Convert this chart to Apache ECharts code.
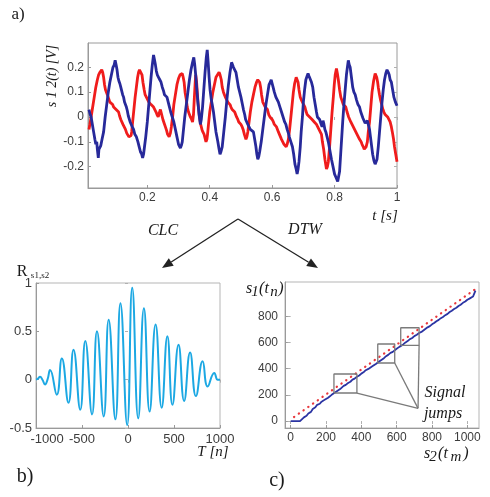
<!DOCTYPE html>
<html><head><meta charset="utf-8">
<script src="https://cdn.jsdelivr.net/npm/echarts@6/dist/echarts.min.js"></script>
<style>html,body{margin:0;padding:0;background:#fff}#c{width:490px;height:497px}</style>
</head><body><div id="c"></div>
<script>
// ---- panel a) : two measured signals ----
const signalXTicks = [0.2, 0.4, 0.6, 0.8, 1];
const signalYTicks = [-0.2, -0.1, 0, 0.1, 0.2];
const blueSignal = [[0.013,0.03],[0.017,0.01],[0.02,0.0],[0.024,-0.03],[0.028,-0.06],[0.032,-0.09],[0.035,-0.11],[0.038,-0.1],[0.04,-0.13],[0.043,-0.165],[0.045,-0.13],[0.048,-0.125],[0.051,-0.115],[0.055,-0.09],[0.06,-0.06],[0.065,0.0],[0.07,0.05],[0.075,0.1],[0.08,0.14],[0.085,0.17],[0.09,0.2],[0.094,0.21],[0.097,0.228],[0.1,0.21],[0.103,0.19],[0.106,0.16],[0.109,0.145],[0.112,0.135],[0.115,0.12],[0.118,0.105],[0.121,0.09],[0.124,0.08],[0.127,0.06],[0.13,0.055],[0.133,0.04],[0.136,0.025],[0.139,0.005],[0.142,0.0],[0.145,-0.02],[0.148,-0.02],[0.152,-0.04],[0.156,-0.05],[0.16,-0.07],[0.165,-0.08],[0.17,-0.1],[0.174,-0.12],[0.178,-0.14],[0.182,-0.15],[0.185,-0.165],[0.188,-0.15],[0.191,-0.12],[0.195,-0.08],[0.2,-0.02],[0.204,0.04],[0.208,0.1],[0.212,0.16],[0.216,0.21],[0.22,0.25],[0.223,0.23],[0.226,0.21],[0.229,0.185],[0.232,0.17],[0.236,0.16],[0.24,0.15],[0.244,0.14],[0.248,0.12],[0.252,0.105],[0.255,0.09],[0.259,0.095],[0.263,0.08],[0.267,0.06],[0.27,0.045],[0.275,0.02],[0.28,0.0],[0.285,-0.02],[0.29,-0.05],[0.295,-0.08],[0.3,-0.11],[0.303,-0.115],[0.306,-0.125],[0.309,-0.115],[0.312,-0.1],[0.316,-0.05],[0.32,0.0],[0.325,0.05],[0.33,0.1],[0.335,0.15],[0.34,0.19],[0.345,0.22],[0.349,0.24],[0.352,0.21],[0.355,0.17],[0.358,0.12],[0.362,0.06],[0.366,0.01],[0.37,-0.03],[0.373,-0.01],[0.377,0.04],[0.381,0.11],[0.385,0.18],[0.389,0.24],[0.392,0.27],[0.395,0.22],[0.398,0.16],[0.401,0.11],[0.405,0.07],[0.408,0.05],[0.412,0.02],[0.416,-0.02],[0.42,-0.06],[0.423,-0.08],[0.426,-0.1],[0.43,-0.13],[0.433,-0.15],[0.436,-0.14],[0.44,-0.12],[0.445,-0.06],[0.45,0.0],[0.455,0.07],[0.46,0.13],[0.465,0.18],[0.47,0.22],[0.473,0.21],[0.476,0.2],[0.48,0.19],[0.484,0.18],[0.488,0.15],[0.492,0.12],[0.496,0.1],[0.5,0.08],[0.504,0.055],[0.508,0.03],[0.512,0.01],[0.515,-0.01],[0.518,-0.015],[0.522,-0.03],[0.526,-0.035],[0.53,-0.05],[0.535,-0.055],[0.54,-0.06],[0.544,-0.09],[0.548,-0.12],[0.551,-0.15],[0.554,-0.17],[0.557,-0.16],[0.56,-0.14],[0.565,-0.1],[0.57,-0.05],[0.575,0.0],[0.58,0.05],[0.585,0.09],[0.59,0.13],[0.594,0.14],[0.597,0.15],[0.6,0.135],[0.603,0.12],[0.607,0.1],[0.612,0.08],[0.616,0.075],[0.62,0.06],[0.625,0.04],[0.63,0.02],[0.635,0.0],[0.64,-0.02],[0.644,-0.03],[0.648,-0.05],[0.652,-0.065],[0.655,-0.08],[0.66,-0.1],[0.665,-0.12],[0.669,-0.15],[0.673,-0.19],[0.677,-0.21],[0.68,-0.23],[0.683,-0.21],[0.686,-0.18],[0.69,-0.12],[0.693,-0.06],[0.697,0.0],[0.7,0.06],[0.704,0.11],[0.708,0.15],[0.712,0.165],[0.715,0.175],[0.718,0.165],[0.722,0.16],[0.726,0.14],[0.73,0.12],[0.734,0.08],[0.738,0.05],[0.742,0.02],[0.745,0.0],[0.748,0.005],[0.752,-0.01],[0.756,-0.025],[0.76,-0.04],[0.763,-0.015],[0.766,-0.03],[0.769,-0.05],[0.772,-0.06],[0.776,-0.08],[0.78,-0.1],[0.785,-0.135],[0.79,-0.17],[0.795,-0.2],[0.8,-0.23],[0.805,-0.245],[0.81,-0.26],[0.813,-0.24],[0.816,-0.22],[0.819,-0.16],[0.822,-0.1],[0.826,-0.02],[0.83,0.05],[0.834,0.11],[0.838,0.17],[0.841,0.2],[0.844,0.228],[0.847,0.21],[0.85,0.2],[0.854,0.16],[0.858,0.12],[0.862,0.1],[0.866,0.09],[0.87,0.07],[0.875,0.05],[0.88,0.04],[0.884,0.02],[0.887,0.013],[0.891,-0.005],[0.895,-0.01],[0.898,-0.025],[0.902,-0.03],[0.905,-0.015],[0.908,-0.02],[0.912,-0.05],[0.915,-0.08],[0.918,-0.11],[0.922,-0.15],[0.926,-0.175],[0.93,-0.19],[0.933,-0.185],[0.936,-0.17],[0.94,-0.12],[0.944,-0.06],[0.948,0.0],[0.952,0.06],[0.956,0.11],[0.96,0.15],[0.964,0.175],[0.968,0.19],[0.972,0.18],[0.975,0.17],[0.978,0.15],[0.982,0.14],[0.986,0.11],[0.99,0.08],[0.995,0.06],[1.0,0.045]];
const redSignal = [[0.013,-0.05],[0.016,-0.03],[0.02,0.0],[0.025,0.04],[0.03,0.08],[0.035,0.12],[0.04,0.15],[0.044,0.17],[0.048,0.18],[0.051,0.185],[0.054,0.19],[0.057,0.18],[0.06,0.16],[0.063,0.13],[0.066,0.11],[0.069,0.1],[0.072,0.09],[0.076,0.075],[0.08,0.06],[0.083,0.065],[0.086,0.055],[0.089,0.05],[0.092,0.04],[0.096,0.04],[0.1,0.03],[0.104,0.025],[0.108,0.02],[0.111,0.005],[0.115,-0.01],[0.118,-0.015],[0.122,-0.03],[0.126,-0.04],[0.13,-0.05],[0.134,-0.065],[0.138,-0.07],[0.141,-0.08],[0.145,-0.085],[0.148,-0.075],[0.15,-0.06],[0.153,-0.02],[0.157,0.03],[0.161,0.08],[0.165,0.12],[0.169,0.16],[0.172,0.18],[0.175,0.19],[0.177,0.195],[0.18,0.185],[0.183,0.17],[0.186,0.14],[0.19,0.11],[0.193,0.09],[0.197,0.08],[0.201,0.07],[0.205,0.06],[0.208,0.055],[0.212,0.05],[0.216,0.045],[0.22,0.04],[0.224,0.03],[0.228,0.02],[0.231,0.01],[0.235,0.0],[0.238,0.015],[0.242,0.03],[0.246,0.01],[0.25,-0.01],[0.254,-0.025],[0.258,-0.04],[0.262,-0.055],[0.265,-0.07],[0.268,-0.075],[0.27,-0.08],[0.274,-0.065],[0.277,-0.04],[0.281,0.0],[0.285,0.05],[0.29,0.09],[0.295,0.13],[0.3,0.155],[0.305,0.17],[0.309,0.17],[0.312,0.175],[0.315,0.16],[0.318,0.14],[0.321,0.1],[0.325,0.07],[0.328,0.04],[0.332,0.02],[0.335,0.01],[0.338,0.0],[0.342,-0.01],[0.345,-0.02],[0.348,0.01],[0.35,0.06],[0.353,0.13],[0.355,0.17],[0.358,0.14],[0.36,0.1],[0.363,0.05],[0.367,0.0],[0.371,-0.03],[0.375,-0.05],[0.378,-0.06],[0.382,-0.07],[0.385,-0.085],[0.388,-0.1],[0.391,-0.09],[0.393,-0.07],[0.396,-0.03],[0.4,0.02],[0.405,0.06],[0.41,0.1],[0.415,0.13],[0.42,0.16],[0.425,0.17],[0.43,0.18],[0.433,0.17],[0.437,0.15],[0.44,0.12],[0.444,0.1],[0.447,0.09],[0.45,0.08],[0.454,0.07],[0.458,0.06],[0.461,0.06],[0.465,0.05],[0.468,0.04],[0.472,0.03],[0.476,0.025],[0.48,0.02],[0.483,0.01],[0.486,0.0],[0.49,-0.01],[0.493,-0.02],[0.497,-0.025],[0.5,-0.03],[0.504,-0.04],[0.507,-0.05],[0.511,-0.07],[0.516,-0.09],[0.519,-0.08],[0.522,-0.06],[0.526,-0.02],[0.53,0.02],[0.535,0.06],[0.54,0.09],[0.545,0.12],[0.55,0.14],[0.554,0.15],[0.557,0.155],[0.56,0.14],[0.563,0.12],[0.566,0.09],[0.57,0.06],[0.574,0.05],[0.578,0.04],[0.582,0.035],[0.585,0.03],[0.589,0.01],[0.593,0.0],[0.597,-0.005],[0.6,-0.01],[0.604,-0.02],[0.607,-0.03],[0.61,-0.035],[0.614,-0.04],[0.617,-0.05],[0.62,-0.06],[0.625,-0.075],[0.63,-0.09],[0.634,-0.1],[0.638,-0.11],[0.642,-0.115],[0.645,-0.12],[0.648,-0.11],[0.652,-0.09],[0.656,-0.05],[0.66,0.0],[0.664,0.05],[0.668,0.1],[0.672,0.135],[0.677,0.16],[0.68,0.155],[0.683,0.14],[0.686,0.11],[0.69,0.08],[0.693,0.07],[0.697,0.06],[0.701,0.05],[0.705,0.04],[0.708,0.025],[0.712,0.01],[0.716,0.005],[0.72,0.0],[0.724,-0.005],[0.728,-0.01],[0.731,-0.015],[0.735,-0.02],[0.738,-0.025],[0.742,-0.03],[0.746,-0.04],[0.75,-0.05],[0.754,-0.06],[0.758,-0.07],[0.761,-0.1],[0.765,-0.13],[0.769,-0.17],[0.774,-0.21],[0.777,-0.2],[0.78,-0.18],[0.784,-0.12],[0.788,-0.05],[0.792,0.02],[0.796,0.08],[0.799,0.13],[0.802,0.17],[0.806,0.195],[0.809,0.175],[0.812,0.15],[0.816,0.11],[0.82,0.08],[0.824,0.065],[0.828,0.05],[0.832,0.045],[0.836,0.04],[0.84,0.02],[0.845,0.0],[0.848,-0.005],[0.852,-0.02],[0.856,-0.03],[0.86,-0.04],[0.864,-0.05],[0.868,-0.06],[0.872,-0.07],[0.876,-0.08],[0.88,-0.09],[0.885,-0.1],[0.888,-0.11],[0.892,-0.12],[0.895,-0.13],[0.898,-0.135],[0.901,-0.12],[0.905,-0.1],[0.908,-0.06],[0.912,-0.02],[0.916,0.04],[0.92,0.1],[0.925,0.145],[0.93,0.175],[0.933,0.17],[0.935,0.16],[0.938,0.14],[0.94,0.12],[0.944,0.09],[0.947,0.07],[0.951,0.05],[0.955,0.03],[0.958,0.02],[0.962,0.01],[0.966,0.005],[0.97,0.0],[0.974,-0.01],[0.978,-0.02],[0.982,-0.04],[0.985,-0.06],[0.989,-0.09],[0.992,-0.12],[0.996,-0.15],[1.0,-0.18]];

// ---- panel b) : cross-correlation ----
const lagTicks = [-1000, -500, 0, 500, 1000];
const corrTicks = [-0.5, 0, 0.5, 1];
const correlation = [[-1000,0.0],[-980,0.01],[-956,0.03],[-930,0.0],[-902,-0.05],[-875,0.0],[-847,0.10],[-774,-0.155],[-719,0.22],[-647,-0.24],[-592,0.31],[-519,-0.31],[-464,0.40],[-391,-0.36],[-337,0.50],[-264,-0.38],[-210,0.62],[-137,-0.41],[-82,0.79],[-9,-0.47],[46,0.95],[111,-0.40],[173,0.74],[235,-0.33],[300,0.57],[366,-0.29],[428,0.45],[483,-0.26],[549,0.36],[610,-0.22],[675,0.28],[738,-0.17],[811,0.19],[866,-0.07],[938,0.07],[975,0.0],[1000,0.0]];

// ---- panel c) : DTW warping path ----
const dtwXTicks = [0, 200, 400, 600, 800, 1000];
const dtwYTicks = [0, 200, 400, 600, 800];
const dtwPath = [[0,0],[53,0],[60,8],[75,28],[90,40],[100,58],[115,70],[125,92],[140,105],[150,124],[165,132],[175,148],[190,160],[200,172],[212,178],[220,190],[232,200],[241,214],[255,222],[265,236],[280,244],[285,252],[300,268],[312,276],[325,290],[338,300],[350,316],[362,324],[375,338],[388,348],[400,362],[412,372],[425,388],[440,398],[450,410],[462,418],[470,428],[482,436],[493,450],[505,458],[515,470],[528,480],[540,495],[552,505],[565,520],[578,528],[589,542],[598,550],[605,560],[615,566],[623,576],[637,585],[650,600],[662,610],[675,625],[688,634],[700,648],[714,658],[727,672],[740,680],[750,692],[762,702],[775,715],[788,724],[800,738],[812,748],[825,762],[838,772],[850,785],[862,794],[875,808],[888,818],[900,832],[912,842],[925,855],[938,865],[950,878],[962,888],[975,902],[988,912],[1000,925],[1012,934],[1020,942],[1032,950],[1041,962],[1046,995]];
const diagonal = [[19,31],[1047,1008]];
// boxes: [xMin, xMax, yMin, yMax]
const jumpBoxes = [[245,375,214,359],[493,589,443,588],[623,727,578,712]];
const jumpLinkCorners = [[375,214],[589,443],[727,578]];
const jumpLabelPoint = [721, 97];

const SANS = '"Liberation Sans", Arial, sans-serif';
const SERIF = '"Liberation Serif", "Times New Roman", serif';
const AXC = '#9a9a9a';
const LBL = '#3c3c3c';

function axis(kind, gridIndex, min, max, ticks, fontSize, margin, fmt, rich) {
  return {
    type: 'value', gridIndex, min, max,
    position: kind === 'x' ? 'bottom' : 'left',
    axisLine: {show: true, onZero: false, lineStyle: {color: AXC, width: 1}},
    axisTick: {show: true, inside: true, length: 3, customValues: ticks, lineStyle: {color: AXC}},
    axisLabel: {customValues: ticks, color: LBL, fontFamily: SANS, fontSize, margin, formatter: fmt, rich},
    splitLine: {show: false}
  };
}
function mirror(kind, gridIndex, min, max, ticks) {
  return {
    type: 'value', gridIndex, min, max,
    position: kind === 'x' ? 'top' : 'right',
    axisLine: {show: false},
    axisTick: {show: true, inside: true, length: 3, customValues: ticks, lineStyle: {color: '#b0b0b0'}},
    axisLabel: {show: false},
    splitLine: {show: false}
  };
}
const fmt1 = v => String(Math.round(v * 10) / 10);
const fmtInt = v => String(Math.round(v));

const boxSeries = jumpBoxes.map(b => ({
  type: 'line', xAxisIndex: 2, yAxisIndex: 2, silent: true, showSymbol: false, z: 4,
  data: [[b[0], b[2]], [b[1], b[2]], [b[1], b[3]], [b[0], b[3]], [b[0], b[2]]],
  lineStyle: {color: '#7a7a7a', width: 1.3}
}));
const linkSeries = jumpLinkCorners.map(c => ({
  type: 'line', xAxisIndex: 2, yAxisIndex: 2, silent: true, showSymbol: false, z: 4,
  data: [c, jumpLabelPoint],
  lineStyle: {color: '#7a7a7a', width: 1.3}
}));

function arrow(x0, y0, x1, y1) {
  const dx = x1 - x0, dy = y1 - y0, L = Math.hypot(dx, dy);
  const ux = dx / L, uy = dy / L, hl = 11, hw = 4.5;
  const bx = x1 - ux * hl, by = y1 - uy * hl;
  return [
    {type: 'line', shape: {x1: x0, y1: y0, x2: bx, y2: by}, style: {stroke: '#222', lineWidth: 1.3}},
    {type: 'polygon', shape: {points: [[x1, y1], [bx - uy * hw, by + ux * hw], [bx + uy * hw, by - ux * hw]]}, style: {fill: '#222'}}
  ];
}
function txt(x, y, text, font, extra) {
  return Object.assign({type: 'text', x, y, style: {text, font, fill: '#1a1a1a', align: 'center', verticalAlign: 'middle'}}, extra || {});
}

const chart = echarts.init(document.getElementById('c'), null, {renderer: 'canvas'});
chart.setOption({
  animation: false,
  backgroundColor: '#fff',
  grid: [
    {left: 88, top: 43, width: 309, height: 145, show: true, borderColor: AXC, borderWidth: 1},
    {left: 36, top: 283, width: 184, height: 145, show: true, borderColor: '#b5b5b5', borderWidth: 1},
    {left: 285, top: 282, width: 194, height: 146, show: true, borderColor: '#b5b5b5', borderWidth: 1}
  ],
  xAxis: [
    axis('x', 0, 0.01, 1, signalXTicks, 12, 4, fmt1),
    axis('x', 1, -1000, 1000, lagTicks, 13, 5, v => v === -1000 ? '{p|-1000}' : fmtInt(v),
      {p: {padding: [0, 0, 0, 22], color: LBL, fontFamily: SANS, fontSize: 13}}),
    axis('x', 2, -32, 1066, dtwXTicks, 12, 4, fmtInt),
    mirror('x', 0, 0.01, 1, signalXTicks),
    mirror('x', 1, -1000, 1000, lagTicks),
    mirror('x', 2, -32, 1066, dtwXTicks)
  ],
  yAxis: [
    axis('y', 0, -0.286, 0.298, signalYTicks, 12, 4, fmt1),
    axis('y', 1, -0.5, 1, corrTicks, 13, 4, v => String(v)),
    axis('y', 2, -53, 1061, dtwYTicks, 12, 7, fmtInt),
    mirror('y', 0, -0.286, 0.298, signalYTicks),
    mirror('y', 1, -0.5, 1, corrTicks),
    mirror('y', 2, -53, 1061, dtwYTicks)
  ],
  series: [
    {type: 'line', xAxisIndex: 0, yAxisIndex: 0, data: redSignal, showSymbol: false, z: 2,
      lineStyle: {color: '#f01c1c', width: 2.8}},
    {type: 'line', xAxisIndex: 0, yAxisIndex: 0, data: blueSignal, showSymbol: false, z: 3,
      lineStyle: {color: '#27299a', width: 2.8}},
    {type: 'line', xAxisIndex: 1, yAxisIndex: 1, data: correlation, smooth: 0.5, showSymbol: false,
      lineStyle: {color: '#1ca8e3', width: 2}},
    {type: 'line', xAxisIndex: 2, yAxisIndex: 2, data: diagonal, showSymbol: false, z: 2,
      lineStyle: {color: '#e8383d', width: 2.2, type: [0.3, 5.5], cap: 'round'}},
    {type: 'line', xAxisIndex: 2, yAxisIndex: 2, data: dtwPath, showSymbol: false, z: 3,
      lineStyle: {color: '#2b34a3', width: 1.8}},
    ...boxSeries, ...linkSeries
  ],
  graphic: [
    txt(18, 15, 'a)', '17px ' + SERIF),
    txt(52, 76, 's 1 2(t) [V]', 'italic 14px ' + SERIF, {rotation: Math.PI / 2}),
    txt(385, 216, 't [s]', 'italic 15px ' + SERIF),
    txt(163, 231, 'CLC', 'italic 16px ' + SERIF),
    txt(305, 230, 'DTW', 'italic 16px ' + SERIF),
    ...arrow(238, 219, 162, 268),
    ...arrow(238, 219, 318, 268),
    txt(22, 272, 'R', '16px ' + SERIF),
    txt(40, 276, 's1,s2', '9px ' + SERIF),
    txt(213, 452, 'T [n]', 'italic 15px ' + SERIF),
    txt(25, 477, 'b)', '20px ' + SERIF),
    txt(249, 289, 's', 'italic 16px ' + SERIF),
    txt(255, 292, '1', 'italic 15px ' + SERIF),
    txt(264, 289, '(t', 'italic 16px ' + SERIF),
    txt(274, 292, 'n', 'italic 15px ' + SERIF),
    txt(281, 289, ')', 'italic 16px ' + SERIF),
    txt(427, 454, 's', 'italic 16px ' + SERIF),
    txt(433, 457, '2', 'italic 15px ' + SERIF),
    txt(443, 454, '(t', 'italic 16px ' + SERIF),
    txt(456, 457, 'm', 'italic 15px ' + SERIF),
    txt(466, 454, ')', 'italic 16px ' + SERIF),
    txt(277, 481, 'c)', '20px ' + SERIF),
    txt(445, 393, 'Signal', 'italic 16px ' + SERIF),
    txt(443, 414, 'jumps', 'italic 16px ' + SERIF)
  ]
});
</script>
</body></html>
